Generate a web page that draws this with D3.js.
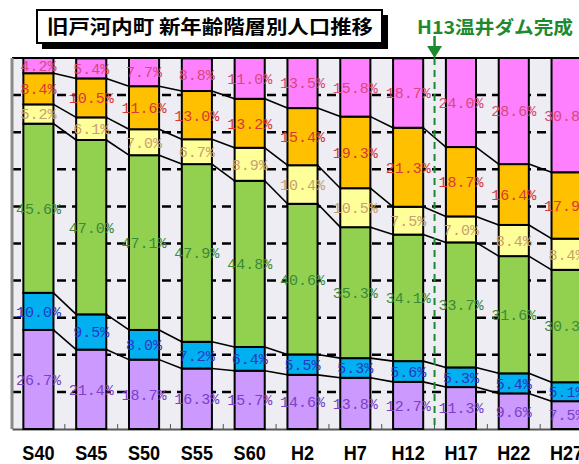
<!DOCTYPE html>
<html>
    <head>
        <meta charset="utf-8">
        <script src="https://d3js.org/d3.v7.min.js"></script>
        <style>
            body { margin: 0; background: #fff; }
            svg { display: block; }
            .lbl {
                font-family: 'Liberation Mono', 'DejaVu Sans Mono', monospace;
                font-size: 15px;
            }
            .xlbl {
                font-family: 'Liberation Sans', Arial, sans-serif;
                font-weight: bold;
                font-size: 21px;
            }
        </style>
    </head>
    <body>
    <script>
        var w= 579;
        var h= 464;

        // 年次
        var years= ['S40','S45','S50','S55','S60','H2','H7','H12','H17','H22','H27'];
        // 年齢階層別の構成比 (%), 下から順
        var grp1= [26.7, 21.4, 18.7, 16.3, 15.7, 14.6, 13.8, 12.7, 11.3, 9.6, 7.5];
        var grp2= [10.0, 9.5, 8.0, 7.2, 6.4, 5.5, 5.3, 5.6, 5.3, 5.4, 5.1];
        var grp3= [45.6, 47.0, 47.1, 47.9, 44.8, 40.6, 35.3, 34.1, 33.7, 31.6, 30.3];
        var grp4= [5.2, 6.1, 7.0, 6.7, 8.9, 10.4, 10.5, 7.5, 7.0, 8.4, 8.4];
        var grp5= [8.4, 10.5, 11.6, 13.0, 13.2, 15.4, 19.3, 21.3, 18.7, 16.4, 17.9];
        var grp6= [4.2, 5.4, 7.7, 8.8, 11.0, 13.5, 15.8, 18.7, 24.0, 28.6, 30.8];
        var groups= [grp1, grp2, grp3, grp4, grp5, grp6];

        var fills= ['#cc99ff','#00b0f0','#92d050','#ffff99','#ffc000','#ff80ff'];
        var textColors= ['#7a40c8','#2838c0','#3a8a3a','#c8a070','#d83838','#d84878'];
        var gridTicks= [10,20,30,40,50,60,70,80,90];

        var pLeft= 12, pRight= 593, pTop= 58, pBottom= 429;

        var svg= d3.select('body').append('svg')
            .attr('width', w)
            .attr('height', h);

        var xScale= d3.scaleBand()
            .domain(years)
            .range([pLeft, pRight])
            .paddingInner(0.43)
            .paddingOuter(0.215);

        var yScale= d3.scaleLinear()
            .domain([0, 100])
            .range([pBottom, pTop]);

        var step= xScale.step();
        var bw= xScale.bandwidth();

        // stacked data
        var stacks= years.map(function(y, i){
            var acc= 0;
            return groups.map(function(g, k){
                var s= { year: y, k: k, v: g[i], y0: acc, y1: acc + g[i] };
                acc += g[i];
                return s;
            });
        });

        // plot background
        svg.append('rect')
            .attr('x', pLeft).attr('y', pTop)
            .attr('width', pRight - pLeft).attr('height', pBottom - pTop)
            .attr('fill', '#ededf3');

        // dashed grid
        svg.append('g').selectAll('line')
            .data(gridTicks)
            .join('line')
            .attr('x1', pLeft).attr('x2', pRight)
            .attr('y1', function(d){ return yScale(d) })
            .attr('y2', function(d){ return yScale(d) })
            .attr('stroke', '#000')
            .attr('stroke-width', 2.5)
            .attr('stroke-dasharray', '9,6');

        // top border
        svg.append('line')
            .attr('x1', pLeft).attr('x2', pRight)
            .attr('y1', pTop).attr('y2', pTop)
            .attr('stroke', '#000').attr('stroke-width', 2);

        // axes
        var xAxisGen= d3.axisBottom(xScale).tickSize(0).tickFormat('');
        svg.append('g')
            .attr('transform', 'translate(0,' + pBottom + ')')
            .call(xAxisGen)
            .call(function(g){ g.select('.domain').attr('stroke', '#555').attr('stroke-width', 2) });

        // tick marks at category boundaries
        svg.append('g').selectAll('line')
            .data(years)
            .join('line')
            .attr('x1', function(d){ return xScale(d) + bw + (step - bw) / 2 })
            .attr('x2', function(d){ return xScale(d) + bw + (step - bw) / 2 })
            .attr('y1', pBottom).attr('y2', pBottom - 5)
            .attr('stroke', '#555').attr('stroke-width', 1);

        svg.append('line')
            .attr('x1', pLeft).attr('x2', pLeft)
            .attr('y1', pTop).attr('y2', pBottom)
            .attr('stroke', '#8a8a8a').attr('stroke-width', 3);

        // bars
        svg.append('g').selectAll('g')
            .data(stacks)
            .join('g')
            .selectAll('rect')
            .data(function(d){ return d })
            .join('rect')
            .attr('x', function(d){ return xScale(d.year) })
            .attr('width', bw)
            .attr('y', function(d){ return yScale(Math.min(d.y1, 100)) })
            .attr('height', function(d){ return yScale(d.y0) - yScale(Math.min(d.y1, 100)) })
            .attr('fill', function(d){ return fills[d.k] })
            .attr('stroke', '#000')
            .attr('stroke-width', 2);

        // connector lines between bars
        var conn= [];
        for (var i= 0; i < years.length - 1; i++){
            for (var k= 0; k < groups.length - 1; k++){
                conn.push({
                    x1: xScale(years[i]) + bw,
                    y1: yScale(stacks[i][k].y1),
                    x2: xScale(years[i+1]),
                    y2: yScale(stacks[i+1][k].y1)
                });
            }
        }
        svg.append('g').selectAll('line')
            .data(conn)
            .join('line')
            .attr('x1', function(d){ return d.x1 })
            .attr('y1', function(d){ return d.y1 })
            .attr('x2', function(d){ return d.x2 })
            .attr('y2', function(d){ return d.y2 })
            .attr('stroke', '#000')
            .attr('stroke-width', 1.6);

        // dam line between H12 and H17
        var damX= xScale('H17') - (step - bw) / 2;
        svg.append('line')
            .attr('x1', damX).attr('x2', damX)
            .attr('y1', pTop).attr('y2', pBottom)
            .attr('stroke', '#1e8a30')
            .attr('stroke-width', 2)
            .attr('stroke-dasharray', '7,5');

        svg.append('line')
            .attr('x1', damX).attr('x2', damX)
            .attr('y1', 36).attr('y2', 48)
            .attr('stroke', '#1e8a30').attr('stroke-width', 2.5);
        svg.append('path')
            .attr('d', 'M' + (damX - 7.5) + ',46 L' + (damX + 7.5) + ',46 L' + damX + ',58 Z')
            .attr('fill', '#1e8a30');

        svg.append('text')
            .attr('x', 417).attr('y', 34)
            .attr('textLength', 156)
            .attr('lengthAdjust', 'spacingAndGlyphs')
            .style('font-family', "'Noto Sans CJK JP', sans-serif")
            .style('font-weight', 'bold')
            .style('font-size', '18px')
            .attr('fill', '#1e8a30')
            .text('H13温井ダム完成');

        // value labels
        svg.append('g').selectAll('g')
            .data(stacks)
            .join('g')
            .selectAll('text')
            .data(function(d){ return d })
            .join('text')
            .attr('class', 'lbl')
            .attr('x', function(d){ return xScale(d.year) + bw / 2 })
            .attr('y', function(d){ return (yScale(d.y0) + yScale(Math.min(d.y1, 100))) / 2 })
            .attr('dy', '0.36em')
            .attr('text-anchor', 'middle')
            .attr('fill', function(d){ return textColors[d.k] })
            .text(function(d){ return d.v.toFixed(1) + '%' });

        // x labels
        svg.append('g').selectAll('text')
            .data(years)
            .join('text')
            .attr('class', 'xlbl')
            .attr('transform', function(d){ return 'translate(' + (xScale(d) + bw / 2) + ',460) scale(0.86,1)' })
            .attr('text-anchor', 'middle')
            .text(function(d){ return d });

        // title box
        svg.append('rect')
            .attr('x', 42).attr('y', 15)
            .attr('width', 346).attr('height', 34)
            .attr('fill', '#000');
        svg.append('rect')
            .attr('x', 37).attr('y', 10)
            .attr('width', 345).attr('height', 33)
            .attr('fill', '#fff')
            .attr('stroke', '#000')
            .attr('stroke-width', 2);
        svg.append('text')
            .attr('x', 47).attr('y', 34)
            .attr('textLength', 326)
            .attr('lengthAdjust', 'spacingAndGlyphs')
            .style('font-family', "'Noto Sans CJK JP', sans-serif")
            .style('font-weight', 'bold')
            .style('font-size', '19px')
            .attr('fill', '#000')
            .attr('xml:space', 'preserve')
            .text('旧戸河内町 新年齢階層別人口推移');
    </script>
    </body>
</html>
